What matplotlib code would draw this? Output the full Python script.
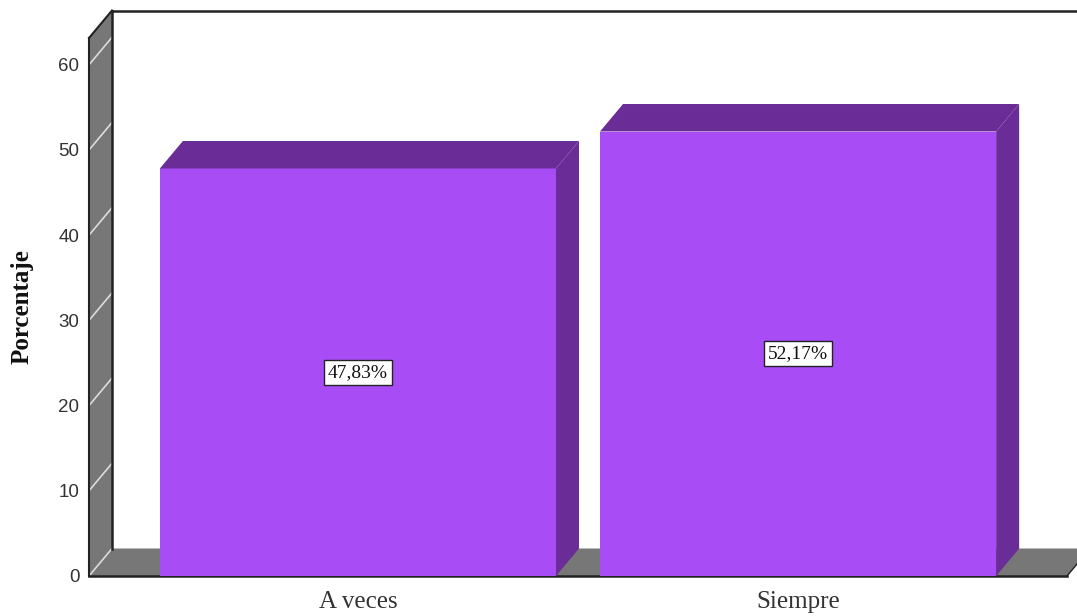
import matplotlib
matplotlib.use('Agg')
import matplotlib.pyplot as plt
from matplotlib.patches import Polygon

categorias = ['A veces', 'Siempre']
valores = [47.83, 52.17]
etiquetas = ['47,83%', '52,17%']
ticks = [0, 10, 20, 30, 40, 50, 60]

W, H = 1077, 616
fig = plt.figure(figsize=(W / 100, H / 100), dpi=100)
# eje frontal: x de 89 a 1067 px, y de 576 a 38 px
ax = fig.add_axes([89 / W, 1 - 576 / H, (1067 - 89) / W, (576 - 38) / H])

x0, x1 = -0.611, 1.611
y0, y1 = 0, 538 / 8.52
ancho = 0.9
dx = 23 / 440   # profundidad del efecto 3D
dy = 27.5 / 8.52

gris = '#777777'
morado = '#A84CF5'
oscuro = '#6A2C96'

ax.set_xlim(x0, x1)
ax.set_ylim(y0, y1)


def poli(puntos, fc, ec='none', lw=0, z=1):
    ax.add_patch(Polygon(puntos, closed=True, fc=fc, ec=ec, lw=lw, zorder=z, clip_on=False))


# pared izquierda y suelo
poli([(x0, y0), (x0 + dx, y0 + dy), (x0 + dx, y1 + dy), (x0, y1)], gris)
poli([(x0, y0), (x1, y0), (x1 + dx, y0 + dy), (x0 + dx, y0 + dy)], gris)

# lineas blancas de la pared
for t in ticks:
    ax.plot([x0, x0 + dx], [t, t + dy], color='#dcdcdc', lw=1.2, zorder=2, clip_on=False)

# bordes
negro = '#222222'
ax.plot([x0, x0], [y0, y1], color=negro, lw=1.5, zorder=3, clip_on=False)
ax.plot([x0, x0 + dx], [y1, y1 + dy], color=negro, lw=1.5, zorder=3, clip_on=False)
ax.plot([x0 + dx, x0 + dx], [dy, y1 + dy], color=negro, lw=1.8, zorder=3, clip_on=False)
ax.plot([x0 + dx, x1 + dx + 0.1], [y1 + dy, y1 + dy], color=negro, lw=1.8, zorder=3, clip_on=False)
ax.plot([x0, x1], [y0, y0], color=negro, lw=1.8, zorder=3, clip_on=False)
ax.plot([x1, x1 + dx], [y0, y0 + dy], color=negro, lw=1.0, zorder=3, clip_on=False)

# barras
posiciones = list(range(len(categorias)))
ax.bar(posiciones, valores, width=ancho, color=morado, zorder=4)
for p, v in zip(posiciones, valores):
    izq, der = p - ancho / 2, p + ancho / 2
    poli([(izq, v), (der, v), (der + dx, v + dy), (izq + dx, v + dy)], oscuro, z=4)
    poli([(der, 0), (der + dx, dy), (der + dx, v + dy), (der, v)], oscuro, z=4)

for p, v, e in zip(posiciones, valores, etiquetas):
    ax.text(p, v / 2, e, ha='center', va='center', fontsize=14, family='Liberation Serif',
            color='#111111', zorder=6,
            bbox=dict(boxstyle='square,pad=0.2', fc='white', ec='#222222', lw=1))

for s in ax.spines.values():
    s.set_visible(False)

ax.set_yticks(ticks)
ax.set_yticklabels([str(t) for t in ticks], family='Liberation Sans', fontsize=13.5, color='#333333')
ax.set_xticks(posiciones)
ax.set_xticklabels(categorias, family='Liberation Serif', fontsize=18, color='#333333')
ax.tick_params(axis='both', length=0)
ax.tick_params(axis='y', pad=7)
ax.tick_params(axis='x', pad=11)

fig.text(22 / W, 1 - 307 / H, 'Porcentaje', rotation=90, ha='center', va='center',
         family='Liberation Serif', fontsize=18, fontweight='bold', color='#111111')

fig.savefig('out.png', dpi=100)
